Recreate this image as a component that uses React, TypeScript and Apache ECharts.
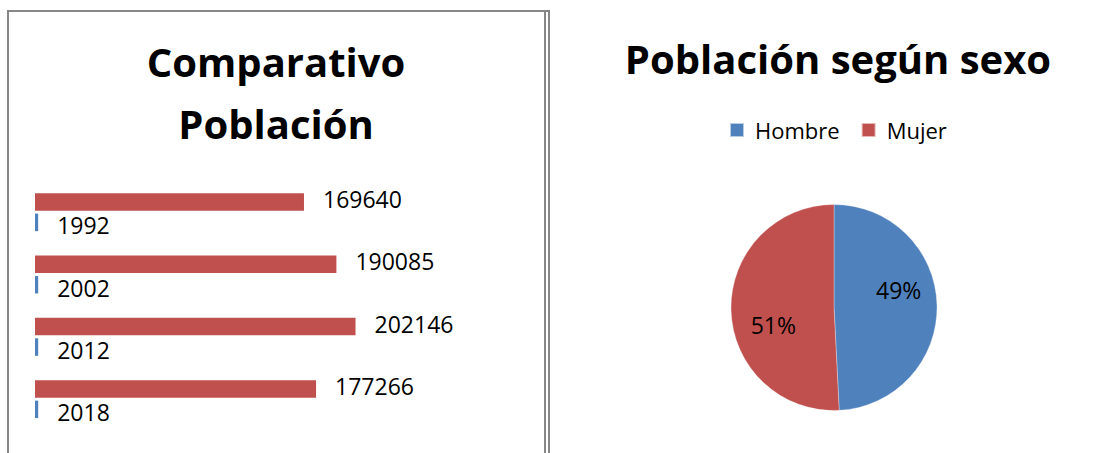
import React, { useEffect, useRef } from "react";
import * as echarts from "echarts";

const categories = ["1992", "2002", "2012", "2018"];
const yearValues = [1992, 2002, 2012, 2018];
const populationValues = [169640, 190085, 202146, 177266];
const sexNames = ["Hombre", "Mujer"];
const sexValues = [49.2, 50.8];

const RED = "#C0504D";
const BLUE = "#4F81BD";
const FONT = "'Open Sans', 'Noto Sans', sans-serif";
const BORDER = "#878787";

export default function App() {
  const ref = useRef<HTMLDivElement>(null);
  useEffect(() => {
    if (!ref.current) return;
    const chart = echarts.init(ref.current, undefined, { renderer: "svg" });
    const pieData = sexNames.map((n, i) => ({ name: n, value: sexValues[i] }));
    chart.setOption({
      animation: false,
      backgroundColor: "#fff",
      textStyle: { fontFamily: FONT },
      title: [
        {
          text: "Comparativo\nPoblación",
          left: 271,
          top: 25,
          textAlign: "center",
          textStyle: { fontFamily: FONT, fontWeight: "bold", fontSize: 40, lineHeight: 62, color: "#000" },
        },
        {
          text: "Población según sexo",
          left: 833,
          top: 33,
          textAlign: "center",
          textStyle: { fontFamily: FONT, fontWeight: "bold", fontSize: 40, color: "#000" },
        },
      ],
      legend: {
        data: sexNames,
        left: 729,
        top: 119,
        padding: 0,
        icon: "rect",
        itemWidth: 14,
        itemHeight: 14,
        itemGap: 21,
        textStyle: { fontFamily: FONT, fontSize: 22, color: "#000", padding: [0, 0, 0, 6] },
      },
      grid: { left: 35, top: 181, width: 396.4, height: 249.3, containLabel: false },
      xAxis: { type: "value", min: 0, max: 250000, show: false },
      yAxis: { type: "category", data: categories, inverse: true, show: false },
      series: [
        {
          type: "bar",
          name: "Población",
          data: populationValues,
          barWidth: 17.5,
          barGap: "17%",
          itemStyle: { color: RED },
          label: {
            show: true,
            position: "right",
            distance: 19,
            offset: [0, -3],
            fontFamily: FONT,
            fontSize: 23,
            color: "#000",
          },
        },
        {
          type: "bar",
          name: "Año",
          data: yearValues,
          barWidth: 17.5,
          barGap: "17%",
          itemStyle: { color: BLUE },
          label: {
            show: true,
            position: "right",
            distance: 19,
            offset: [0, 3],
            fontFamily: FONT,
            fontSize: 23,
            color: "#000",
          },
        },
        {
          type: "pie",
          name: "Sexo",
          center: [834, 307.5],
          radius: [0, 103],
          startAngle: 90,
          clockwise: true,
          data: pieData,
          color: [BLUE, RED],
          itemStyle: { borderColor: "rgba(255,255,255,0.6)", borderWidth: 0.5 },
          label: { show: false },
          labelLine: { show: false },
          emphasis: { disabled: true },
        },
        {
          type: "pie",
          name: "SexoEtiquetas",
          center: [836, 307.5],
          radius: [0, 124],
          startAngle: 104,
          clockwise: true,
          silent: true,
          legendHoverLink: false,
          data: pieData,
          itemStyle: { color: "rgba(0,0,0,0)" },
          label: {
            show: true,
            position: "inside",
            fontFamily: FONT,
            fontSize: 23,
            color: "#000",
            formatter: (p: any) => Math.round(p.percent) + "%",
          },
          labelLine: { show: false },
          emphasis: { disabled: true },
        },
      ],
      graphic: [
        { type: "line", shape: { x1: 7, y1: 11, x2: 550, y2: 11 }, style: { stroke: BORDER, lineWidth: 2 } },
        { type: "line", shape: { x1: 8, y1: 10, x2: 8, y2: 453 }, style: { stroke: BORDER, lineWidth: 2 } },
        { type: "line", shape: { x1: 545, y1: 10, x2: 545, y2: 453 }, style: { stroke: BORDER, lineWidth: 2 } },
        { type: "line", shape: { x1: 549, y1: 10, x2: 549, y2: 453 }, style: { stroke: BORDER, lineWidth: 2 } },
      ],
    });
    return () => chart.dispose();
  }, []);
  return (
    <div
      ref={ref}
      style={{ position: "fixed", left: 0, top: 0, width: 1105, height: 453, background: "#fff" }}
    />
  );
}
